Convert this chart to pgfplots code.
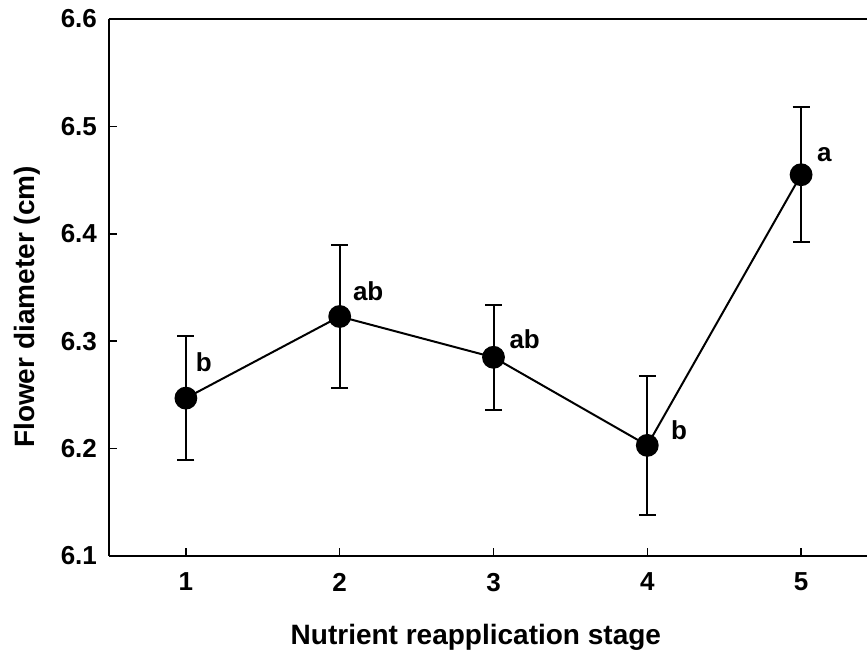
\documentclass[border=0pt]{standalone}
\usepackage{fontspec}
\setmainfont{Liberation Sans}
\usepackage{pgfplots}
\pgfplotsset{compat=1.18}
\usepackage{pgfplotstable}

% stage, mean flower diameter (cm), standard error
\pgfplotstableread{
x   y      err
1   6.247  0.058
2   6.323  0.067
3   6.285  0.049
4   6.203  0.065
5   6.455  0.063
}\diameter

\begin{document}
\begin{tikzpicture}
\begin{axis}[
  scale only axis,
  width=379pt, height=268.5pt,
  xmin=0.5, xmax=5.4285,
  ymin=6.1, ymax=6.6,
  axis x line=box, axis y line=left,
  axis line style={-, line width=0.8pt},
  xtick={1,2,3,4,5}, xtick pos=bottom,
  ytick={6.1,6.2,6.3,6.4,6.5,6.6}, ytick pos=left,
  tick align=inside, major tick length=4pt,
  tick style={line width=0.8pt, black},
  /pgf/number format/assume math mode=true,
  /pgf/number format/.cd, fixed, fixed zerofill, precision=1, /pgfplots/.cd,
  xticklabel style={font=\bfseries\fontsize{13}{15}\selectfont, /pgf/number format/precision=0, yshift=-5pt},
  yticklabel style={font=\bfseries\fontsize{13}{15}\selectfont, xshift=-2.5pt},
  xlabel={Nutrient reapplication stage},
  ylabel={Flower diameter (cm)},
  xlabel style={font=\bfseries\fontsize{14}{16}\selectfont, at={(rel axis cs:0.484,0)}, anchor=base, yshift=-44.5pt},
  ylabel style={font=\bfseries\fontsize{14}{16}\selectfont, at={(rel axis cs:0,0.4637)}, anchor=base, yshift=37pt},
  clip=false,
]
\addplot[black, line width=1pt, mark=*, mark size=5.2pt,
  mark options={fill=black, solid},
  error bars/.cd, y dir=both, y explicit,
  error bar style={line width=1pt, black},
  error mark options={rotate=90, mark size=4.25pt, line width=1pt, black}]
  table[x=x, y=y, y error=err] {\diameter};

\begin{scope}[every node/.style={font=\bfseries\fontsize{13}{15}\selectfont, inner sep=0pt, anchor=center}]
\node[xshift=8.9pt,  yshift=17.9pt] at (axis cs:1,6.247) {b};
\node[xshift=14.25pt, yshift=12.6pt] at (axis cs:2,6.323) {ab};
\node[xshift=15.6pt, yshift=8.9pt]  at (axis cs:3,6.285) {ab};
\node[xshift=15.85pt, yshift=7.5pt] at (axis cs:4,6.203) {b};
\node[xshift=11.65pt, yshift=10pt]  at (axis cs:5,6.455) {a};
\end{scope}

\coordinate (frameSW) at (rel axis cs:0,0);
\coordinate (frameNE) at (rel axis cs:1,1);
\end{axis}
\pgfresetboundingbox
\path[use as bounding box] ([xshift=-54.5pt, yshift=-48pt]frameSW) rectangle ([yshift=9.5pt]frameNE);
\end{tikzpicture}
\end{document}
